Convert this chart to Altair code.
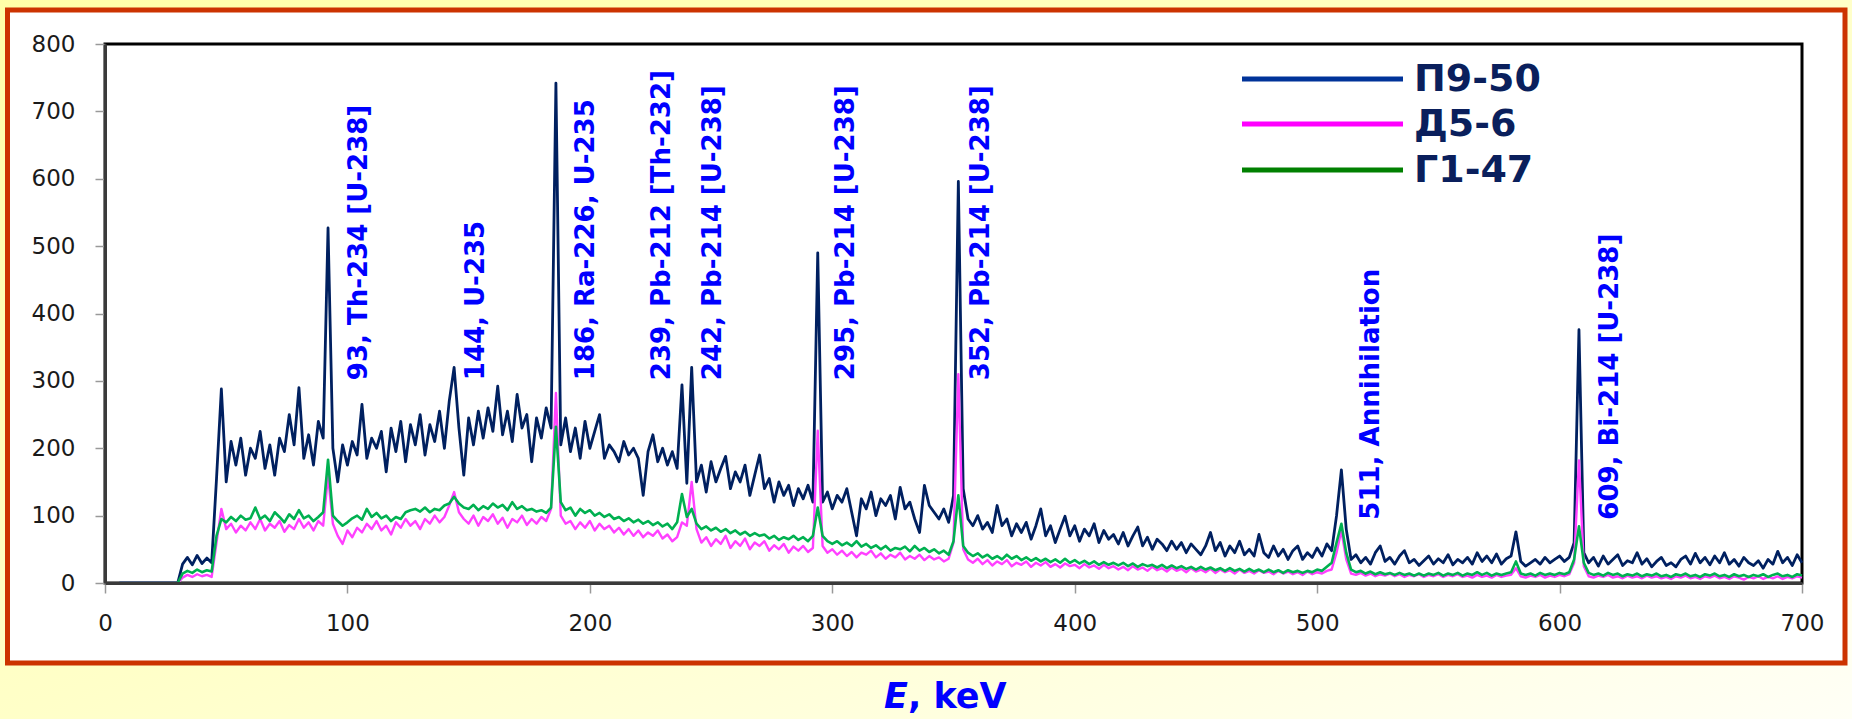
import altair as alt
import pandas as pd

# ---------------- data ----------------
energy_kev = list(range(0, 701, 2))

# П9-50 (counts), one row = 20 keV (10 channels of 2 keV)
p9_50 = [
    None, None, None, 0, 0, 0, 0, 0, 0, 0,            # 0
    0, 0, 0, 0, 0, 0, 28, 38, 27, 41,                 # 20
    29, 37, 30, 155, 288, 150, 210, 175, 215, 160,    # 40
    200, 185, 225, 170, 205, 160, 215, 195, 250, 205, # 60
    290, 185, 220, 175, 240, 215, 527, 200, 150, 205, # 80
    175, 210, 190, 265, 185, 215, 200, 225, 165, 230, # 100
    195, 240, 180, 235, 205, 250, 190, 235, 210, 255, # 120
    200, 270, 320, 230, 160, 245, 205, 255, 215, 260, # 140
    225, 292, 220, 255, 210, 280, 230, 250, 180, 245, # 160
    215, 260, 230, 742, 205, 245, 195, 230, 185, 240, # 180
    200, 225, 250, 185, 205, 195, 180, 210, 190, 200, # 200
    185, 130, 195, 220, 180, 200, 175, 195, 170, 294, # 220
    148, 320, 150, 175, 135, 180, 150, 170, 188, 140, # 240
    165, 150, 175, 130, 160, 190, 140, 155, 120, 150, # 260
    130, 145, 115, 140, 125, 145, 120, 490, 120, 135, # 280
    110, 130, 120, 140, 105, 70, 125, 110, 135, 100,  # 300
    125, 115, 130, 95, 142, 110, 120, 95, 75, 145,    # 320
    115, 105, 95, 110, 90, 130, 596, 140, 95, 85,     # 340
    100, 80, 90, 75, 115, 85, 95, 70, 88, 75,         # 360
    90, 65, 85, 110, 70, 85, 60, 80, 99, 70,          # 380
    85, 62, 80, 70, 88, 60, 78, 65, 72, 58,           # 400
    75, 55, 70, 83, 55, 68, 50, 65, 58, 48,           # 420
    62, 50, 60, 45, 58, 50, 42, 55, 75, 48,           # 440
    60, 40, 55, 45, 62, 42, 50, 40, 72, 45,           # 460
    38, 55, 40, 50, 35, 48, 55, 35, 45, 38,           # 480
    52, 40, 58, 48, 100, 168, 80, 35, 42, 30,         # 500
    38, 28, 45, 55, 32, 38, 28, 40, 48, 30,           # 520
    35, 26, 33, 40, 28, 36, 30, 42, 27, 35,           # 540
    30, 38, 28, 45, 32, 40, 30, 43, 28, 36,           # 560
    40, 76, 32, 25, 30, 35, 28, 38, 30, 35,           # 580
    40, 32, 38, 60, 376, 45, 30, 38, 25, 40,          # 600
    28, 35, 42, 26, 33, 30, 45, 28, 36, 24,           # 620
    32, 38, 26, 30, 24, 35, 40, 28, 44, 30,           # 640
    38, 27, 40, 30, 45, 28, 35, 25, 38, 30,           # 660
    26, 33, 22, 35, 28, 47, 30, 38, 26, 42,           # 680
    30,                                               # 700
]

# Д5-6
d5_6 = [
    None, None, None, 0, 0, 0, 0, 0, 0, 0,            # 0
    0, 0, 0, 0, 0, 0, 8, 12, 9, 13,                   # 20
    10, 12, 9, 60, 110, 80, 88, 75, 85, 78,           # 40
    90, 80, 95, 78, 88, 82, 92, 76, 86, 80,           # 60
    95, 82, 90, 78, 92, 85, 160, 88, 70, 58,          # 80
    78, 68, 82, 75, 88, 80, 92, 78, 85, 72,           # 100
    90, 82, 95, 85, 92, 80, 95, 88, 100, 90,          # 120
    98, 115, 135, 105, 95, 88, 100, 85, 98, 92,       # 140
    102, 88, 97, 82, 95, 90, 100, 86, 95, 88,         # 160
    98, 92, 110, 282, 100, 88, 92, 80, 90, 82,        # 180
    92, 78, 88, 80, 85, 75, 82, 72, 80, 70,           # 200
    78, 68, 75, 70, 78, 66, 72, 62, 68, 90,           # 220
    85, 150, 80, 60, 68, 55, 65, 58, 70, 52,          # 240
    62, 55, 66, 50, 60, 55, 62, 48, 56, 50,           # 260
    58, 45, 54, 48, 55, 46, 52, 226, 55, 45,          # 280
    50, 42, 48, 40, 46, 38, 45, 42, 48, 38,           # 300
    44, 36, 42, 38, 45, 35, 40, 36, 42, 34,           # 320
    40, 35, 38, 32, 36, 60, 310, 50, 35, 30,          # 340
    36, 28, 34, 26, 32, 28, 34, 25, 30, 27,           # 360
    32, 24, 30, 26, 31, 24, 28, 23, 29, 25,           # 380
    27, 22, 28, 23, 26, 21, 27, 22, 25, 20,           # 400
    24, 19, 25, 20, 23, 18, 24, 19, 22, 17,           # 420
    23, 18, 21, 16, 22, 17, 20, 16, 21, 15,           # 440
    20, 16, 19, 14, 20, 15, 18, 14, 19, 15,           # 460
    17, 13, 18, 14, 17, 13, 16, 12, 17, 13,           # 480
    16, 14, 18, 20, 45, 78, 35, 14, 12, 15,           # 500
    11, 14, 10, 13, 11, 14, 10, 13, 9, 12,            # 520
    10, 13, 9, 12, 10, 13, 9, 12, 10, 13,             # 540
    9, 11, 8, 12, 9, 11, 8, 12, 9, 11,                # 560
    12, 22, 10, 8, 11, 9, 12, 8, 11, 9,               # 580
    12, 10, 13, 30, 182, 25, 10, 8, 11, 9,            # 600
    12, 8, 10, 7, 11, 8, 10, 7, 11, 8,                # 620
    10, 7, 9, 6, 10, 8, 11, 7, 9, 6,                  # 640
    10, 8, 11, 7, 9, 6, 10, 8, 5, 9,                  # 660
    7, 10, 6, 9, 7, 10, 6, 9, 7, 10,                  # 680
    8,                                                # 700
]

# Г1-47
g1_47 = [
    None, None, None, 0, 0, 0, 0, 0, 0, 0,            # 0
    0, 0, 0, 0, 0, 0, 14, 18, 15, 20,                 # 20
    16, 19, 17, 70, 95, 90, 98, 92, 100, 94,          # 40
    96, 112, 95, 100, 92, 105, 98, 90, 102, 95,       # 60
    108, 96, 100, 92, 98, 105, 183, 100, 92, 85,      # 80
    90, 96, 100, 94, 110, 98, 104, 96, 100, 92,       # 100
    98, 95, 105, 108, 110, 106, 112, 105, 110, 108,   # 120
    115, 118, 128, 118, 112, 110, 116, 108, 114, 110, # 140
    118, 112, 116, 108, 120, 110, 114, 108, 110, 106, # 160
    108, 104, 112, 232, 120, 108, 112, 100, 110, 104, # 180
    108, 100, 104, 98, 102, 95, 98, 92, 96, 90,       # 200
    94, 88, 92, 86, 90, 84, 88, 80, 90, 132,          # 220
    98, 110, 88, 80, 84, 78, 82, 76, 80, 74,          # 240
    78, 72, 76, 70, 74, 70, 72, 66, 70, 64,           # 260
    68, 65, 70, 64, 68, 62, 70, 112, 70, 62,          # 280
    58, 62, 56, 60, 55, 62, 54, 58, 52, 56,           # 300
    50, 55, 48, 52, 50, 54, 47, 55, 48, 52,           # 320
    46, 50, 44, 48, 42, 62, 130, 55, 45, 40,          # 340
    44, 38, 42, 36, 40, 35, 42, 36, 40, 34,           # 360
    38, 33, 37, 32, 36, 31, 35, 30, 36, 30,           # 380
    34, 29, 33, 28, 32, 27, 31, 27, 30, 26,           # 400
    30, 25, 29, 24, 28, 25, 27, 23, 27, 22,           # 420
    26, 22, 25, 21, 24, 20, 24, 20, 23, 19,           # 440
    22, 18, 22, 18, 21, 17, 21, 17, 20, 16,           # 460
    20, 16, 19, 15, 19, 16, 18, 15, 18, 16,           # 480
    20, 18, 24, 30, 60, 88, 45, 20, 16, 18,           # 500
    14, 17, 13, 16, 13, 15, 12, 15, 12, 14,           # 520
    11, 14, 11, 14, 12, 15, 11, 14, 12, 15,           # 540
    11, 14, 12, 16, 12, 15, 11, 14, 12, 14,           # 560
    16, 32, 14, 12, 14, 11, 15, 12, 14, 12,           # 580
    15, 13, 16, 35, 84, 30, 15, 12, 14, 11,           # 600
    15, 12, 14, 10, 13, 11, 14, 10, 13, 11,           # 620
    14, 10, 12, 9, 13, 11, 14, 10, 12, 9,             # 640
    13, 11, 14, 10, 12, 9, 13, 10, 12, 9,             # 660
    12, 10, 13, 9, 12, 14, 10, 12, 9, 13,             # 680
    11,                                               # 700
]

series_names = ["П9-50", "Д5-6", "Г1-47"]

peak_labels = [
    "93, Th-234 [U-238]", "144, U-235", "186, Ra-226, U-235",
    "239, Pb-212 [Th-232]", "242, Pb-214 [U-238]", "295, Pb-214 [U-238]",
    "352, Pb-214 [U-238]", "511, Annihilation", "609, Bi-214 [U-238]",
]
peak_label_x = [104.7, 152.9, 198.3, 229.6, 251.0, 305.8, 361.4, 522.3, 620.8]
peak_label_y = [301, 301, 301, 301, 301, 301, 301, 94, 94]

x_ticks = [0, 100, 200, 300, 400, 500, 600, 700]
y_ticks = [0, 100, 200, 300, 400, 500, 600, 700, 800]

# ---------------- styling ----------------
line_colors = ["#002060", "#ff40ff", "#00b050"]
line_widths = [2.8, 2.4, 2.6]
legend_colors = ["#003399", "#ff00ff", "#008000"]
FONT = "DejaVu Sans"
W, H = 1697, 539

assert len(p9_50) == len(energy_kev) == len(d5_6) == len(g1_47)

one = pd.DataFrame({"k": [0]})

x_enc = alt.X(
    "E:Q",
    scale=alt.Scale(domain=[0, 700], nice=False, zero=False),
    axis=alt.Axis(values=x_ticks, title="", grid=False, labelFontSize=23, labelFont=FONT,
                  labelColor="#1a1a1a", tickSize=10, tickColor="#999999", tickWidth=1.5,
                  domainColor="#3a3a3a", domainWidth=3, labelPadding=19, labelFlush=False,
                  labelOverlap=False, zindex=1),
)
y_enc = alt.Y(
    "v:Q",
    scale=alt.Scale(domain=[0, 800], nice=False),
    axis=alt.Axis(values=y_ticks, title="", grid=False, labelFontSize=23, labelFont=FONT,
                  labelColor="#1a1a1a", tickSize=10, tickColor="#999999", tickWidth=1.5,
                  domainColor="#3a3a3a", domainWidth=3, labelPadding=20, zindex=1),
)

# background gradient and framed white panel
bg = alt.Chart(one).mark_rect(
    fill={"gradient": "linear", "x1": 0, "y1": 0, "x2": 1, "y2": 1,
          "stops": [{"offset": 0, "color": "#ffffa8"},
                    {"offset": 0.5, "color": "#ffffc8"},
                    {"offset": 1, "color": "#fffff6"}]}
).encode(x=alt.value(-105), x2=alt.value(W + 50), y=alt.value(-44), y2=alt.value(H + 136))

panel = alt.Chart(one).mark_rect(fill="#ffffff", stroke="#cc3300", strokeWidth=5).encode(
    x=alt.value(-97.5), x2=alt.value(1740), y=alt.value(-34), y2=alt.value(619)
)

frame = alt.Chart(one).mark_rect(fill="transparent", stroke="#000000", strokeWidth=3).encode(
    x=alt.value(0), x2=alt.value(W), y=alt.value(0), y2=alt.value(H)
)

layers = [bg, panel, frame]

for name, vals, col, lw in zip(series_names, [p9_50, d5_6, g1_47], line_colors, line_widths):
    df = pd.DataFrame({"E": energy_kev, "v": vals})
    df["v"] = pd.to_numeric(df["v"])
    layers.append(
        alt.Chart(df).mark_line(color=col, strokeWidth=lw, strokeJoin="round")
        .encode(x=x_enc, y=y_enc)
    )

labels_df = pd.DataFrame({"E": peak_label_x, "v": peak_label_y, "t": peak_labels})
layers.append(
    alt.Chart(labels_df).mark_text(angle=270, align="left", baseline="middle", font=FONT,
                                   fontWeight="bold", fontSize=26, color="#0000ff")
    .encode(x=x_enc, y=y_enc, text="t:N")
)

# legend (drawn manually)
legend_rows_y = [35, 80, 126]
for name, col, yy in zip(series_names, legend_colors, legend_rows_y):
    layers.append(
        alt.Chart(one).mark_rule(color=col, strokeWidth=5).encode(
            x=alt.value(1137), x2=alt.value(1298), y=alt.value(yy)
        )
    )
    layers.append(
        alt.Chart(one).mark_text(align="left", baseline="middle", font=FONT, fontWeight="bold",
                                 fontSize=38, color="#0a1f5c")
        .encode(x=alt.value(1309), y=alt.value(yy + 1), text=alt.value(name))
    )

# x-axis title "E, keV"
layers.append(
    alt.Chart(one).mark_text(align="left", baseline="alphabetic", font=FONT, fontWeight="bold",
                             fontStyle="italic", fontSize=35, color="#0000ff")
    .encode(x=alt.value(779), y=alt.value(664), text=alt.value("E"))
)
layers.append(
    alt.Chart(one).mark_text(align="left", baseline="alphabetic", font=FONT, fontWeight="bold",
                             fontSize=35, color="#0000ff")
    .encode(x=alt.value(803), y=alt.value(664), text=alt.value(", keV"))
)

chart = (
    alt.layer(*layers)
    .properties(width=W, height=H, autosize=alt.AutoSizeParams(type="none"),
                padding={"left": 105, "top": 44, "right": 50, "bottom": 136})
    .configure(background="#ffffcc")
    .configure_view(stroke="transparent")
)

chart.save("out.html", embed_options={"renderer": "svg", "actions": False})
